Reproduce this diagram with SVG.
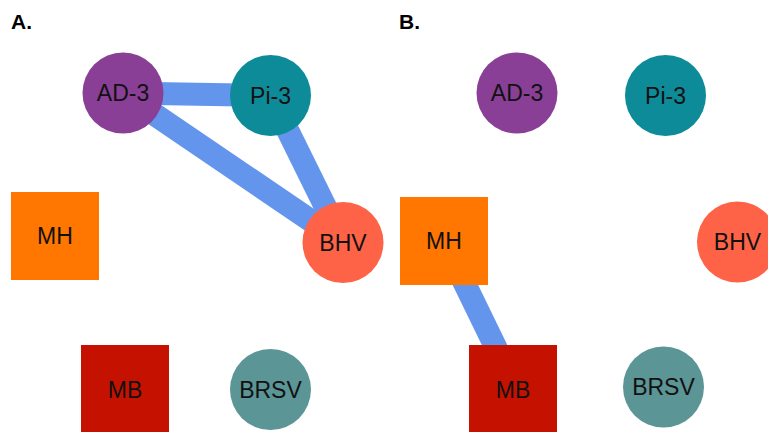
<svg xmlns="http://www.w3.org/2000/svg" width="768" height="432" viewBox="0 0 768 432">
<style>
.lbl{font-family:"Liberation Sans",Arial,sans-serif;font-size:23px;fill:#111;text-anchor:middle}
.panel{font-family:"Liberation Sans",Arial,sans-serif;font-size:21px;font-weight:bold;fill:#000}
.edge{stroke:#6495ED;stroke-width:23;stroke-linecap:butt;fill:none}
</style>
<rect width="768" height="432" fill="#fff"/>
<text class="panel" x="11" y="29">A.</text>
<text class="panel" x="399" y="29">B.</text>
<g id="connectors">
<line class="edge" x1="123" y1="93" x2="270.5" y2="95.5"/>
<line class="edge" x1="123" y1="93" x2="343" y2="242.5"/>
<line class="edge" x1="270.5" y1="95.5" x2="343" y2="242.5"/>
<line class="edge" x1="444" y1="241" x2="516" y2="389"/>
</g>
<g id="A-AD3"><circle cx="123" cy="93" r="40.5" fill="#8A3F97"/><text class="lbl" x="123" y="101">AD-3</text></g>
<g id="A-Pi3"><circle cx="270.5" cy="95.5" r="40.5" fill="#0E8B99"/><text class="lbl" x="270.5" y="103.5">Pi-3</text></g>
<g id="A-BHV"><circle cx="343" cy="242.5" r="40.5" fill="#FE6347"/><text class="lbl" x="343" y="250.5">BHV</text></g>
<g id="A-MH"><rect x="11" y="192" width="88" height="88" fill="#FF7600"/><text class="lbl" x="55" y="244">MH</text></g>
<g id="A-MB"><rect x="81" y="345" width="88" height="88" fill="#C51100"/><text class="lbl" x="125" y="398">MB</text></g>
<g id="A-BRSV"><circle cx="270.5" cy="389.5" r="40.5" fill="#5B9596"/><text class="lbl" x="270.5" y="397.5">BRSV</text></g>
<g id="B-AD3"><circle cx="517" cy="93" r="40.5" fill="#8A3F97"/><text class="lbl" x="517" y="101">AD-3</text></g>
<g id="B-Pi3"><circle cx="665.5" cy="95.5" r="40.5" fill="#0E8B99"/><text class="lbl" x="665.5" y="103.5">Pi-3</text></g>
<g id="B-BHV"><circle cx="737.5" cy="242" r="40.5" fill="#FE6347"/><text class="lbl" x="737.5" y="250">BHV</text></g>
<g id="B-MH"><rect x="400" y="197" width="88" height="88" fill="#FF7600"/><text class="lbl" x="444" y="249">MH</text></g>
<g id="B-MB"><rect x="469" y="345" width="88" height="88" fill="#C51100"/><text class="lbl" x="513" y="398">MB</text></g>
<g id="B-BRSV"><circle cx="663.5" cy="387" r="40.5" fill="#5B9596"/><text class="lbl" x="663.5" y="395">BRSV</text></g>
</svg>
